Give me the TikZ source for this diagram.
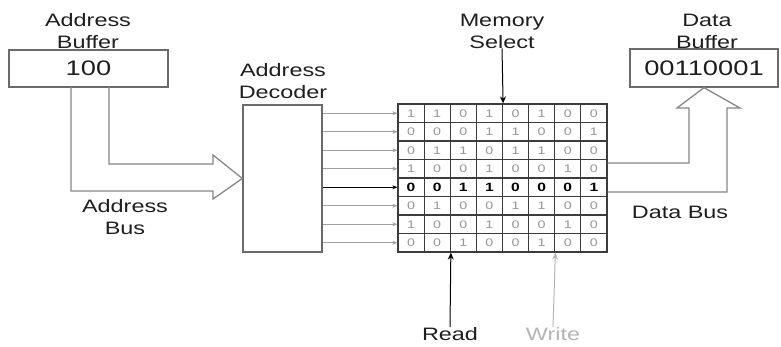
\documentclass[tikz,border=0pt]{standalone}
\usepackage{fontspec}
\setmainfont[FakeStretch=1.3]{Liberation Sans}
\usetikzlibrary{arrows.meta}
\definecolor{txt}{HTML}{1E1E1E}
\definecolor{boxline}{HTML}{6A6A6A}
\definecolor{busline}{HTML}{868686}
\definecolor{gridline}{HTML}{3C3C3C}
\definecolor{cellgray}{HTML}{959595}
\definecolor{rowgray}{HTML}{A0A0A0}
\definecolor{writegray}{HTML}{B4B4B4}
\tikzset{
  lbl/.style={text=txt, align=center, inner sep=0pt, font=\fontsize{18}{22}\selectfont},
  regbox/.style={draw=boxline, line width=1.3pt, fill=white, inner sep=0pt,
    text=txt, font=\fontsize{21}{21}\selectfont},
  cell/.style={draw=gridline, line width=1.2pt, minimum width=26.125pt, minimum height=18.5pt,
    inner sep=0pt, text=cellgray, font=\fontsize{11}{11}\selectfont},
  boldcell/.style={cell, text=black, font=\bfseries\fontsize{12}{12}\selectfont},
  rowarrow/.style={draw=rowgray, line width=0.9pt, -{Stealth[length=5pt,width=4pt]}},
  selarrow/.style={draw=black, line width=1pt, -{Stealth[length=7pt,width=6pt]}},
  bus/.style={draw=busline, line width=1.3pt, line join=miter},
}
\begin{document}
\begin{tikzpicture}[x=1pt,y=-1pt]
\useasboundingbox (0,0) rectangle (781,346);

% buffers and decoder
\node[regbox, minimum width=159pt, minimum height=37pt] (abuf) at (88.5,68.5) {100};
\node[regbox, minimum width=148pt, minimum height=38pt] (dbuf) at (704,68) {00110001};
\node[regbox, minimum width=79pt, minimum height=147pt] (dec) at (282.5,178.5) {};

% labels
\node[lbl] (labuf) at (88,31) {Address\\Buffer};
\node[lbl] (ldbuf) at (707,31) {Data\\Buffer};
\node[lbl] (ldec) at (283,81) {Address\\Decoder};
\node[lbl] (msel) at (502,31) {Memory\\Select};
\node[lbl] (abus) at (125,217) {Address\\Bus};
\node[lbl] (dbus) at (680,212) {Data Bus};
\node[lbl] (read) at (450,334) {Read};
\node[lbl, text=writegray] (write) at (553,334) {Write};

% memory grid
\foreach \r/\vals in {1/{1,1,0,1,0,1,0,0},2/{0,0,0,1,1,0,0,1},3/{0,1,1,0,1,1,0,0},
  4/{1,0,0,1,0,0,1,0},5/{0,0,1,1,0,0,0,1},6/{0,1,0,0,1,1,0,0},
  7/{1,0,0,1,0,0,1,0},8/{0,0,1,0,0,1,0,0}}{
  \foreach \v [count=\c] in \vals {
    \ifnum\r=5 \def\cst{boldcell}\else\def\cst{cell}\fi
    \node[\cst] (c\r-\c) at ({398+(\c-0.5)*26.125},{104+(\r-0.5)*18.5}) {\v};
  }
}

% decoder to rows
\foreach \r in {1,2,3,4,6,7,8}{
  \draw[rowarrow] (dec.east |- c\r-1.west) -- (c\r-1.west);
}
\draw[rowarrow, draw=black] (dec.east |- c5-1.west) -- (c5-1.west);

% select, read, write
\draw[selarrow] (msel.south) -- (c1-4.north east);
\draw[selarrow] (read.north) -- (c8-2.south east);
\draw[selarrow, draw=writegray] (write.north) -- (c8-6.south east);

% address bus
\draw[bus] (71,87) -- (71,191) -- (213,191) -- (213,199) -- (dec.west) -- (213,155)
  -- (213,164) -- (109,164) -- (109,87);

% data bus
\draw[bus] (c4-8.south east |- 0,163) -- (689,163) -- (689,108) -- (677,108) -- (dbuf.south)
  -- (740,108) -- (727,108) -- (727,192) -- (c5-8.east |- 0,192);
\end{tikzpicture}
\end{document}
